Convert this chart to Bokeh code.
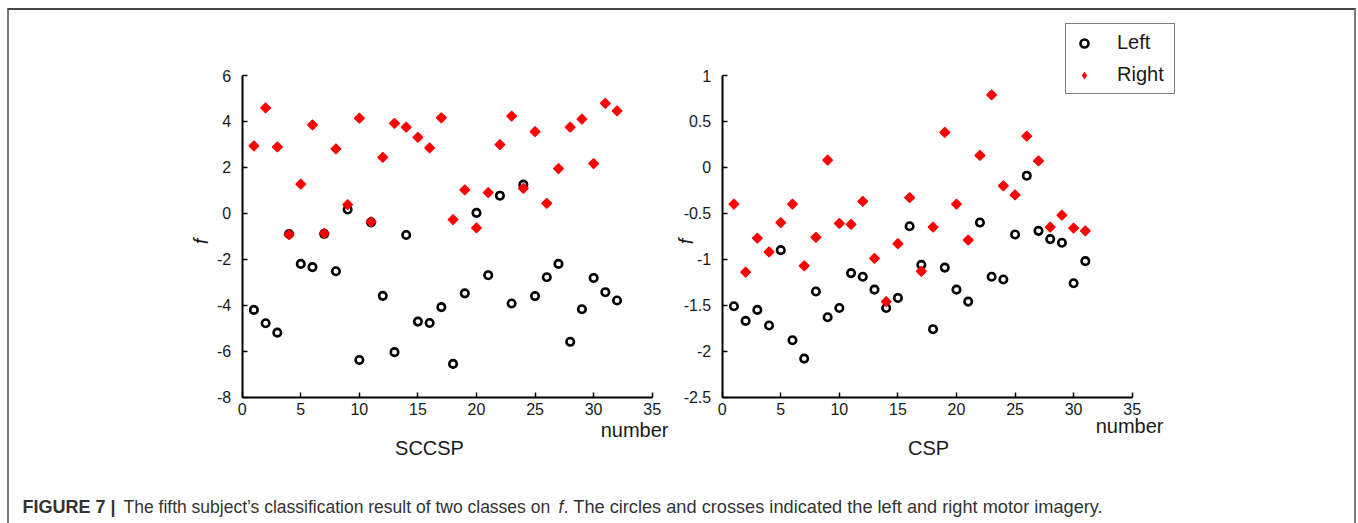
import numpy as np
from bokeh.plotting import figure
from bokeh.models import (Label, Legend, LegendItem, FixedTicker, Range1d,
                          ColumnDataSource, CDSView, IndexFilter)
from bokeh.layouts import row, column
from bokeh.embed import file_html
from bokeh.resources import INLINE
from bokeh.core.properties import value

# ---------------- data ----------------
number_sccsp = list(range(1, 33))
sccsp_left = [-4.20, -4.78, -5.19, -0.90, -2.20, -2.34, -0.89, -2.52, 0.17, -6.38,
              -0.39, -3.59, -6.04, -0.94, -4.71, -4.77, -4.08, -6.55, -3.48, 0.02,
              -2.69, 0.77, -3.92, 1.25, -3.60, -2.78, -2.20, -5.59, -4.17, -2.81,
              -3.43, -3.79]
sccsp_right = [2.94, 4.59, 2.89, -0.92, 1.27, 3.85, -0.87, 2.81, 0.38, 4.14,
               -0.37, 2.44, 3.92, 3.75, 3.31, 2.85, 4.16, -0.27, 1.02, -0.63,
               0.90, 2.99, 4.23, 1.09, 3.56, 0.44, 1.95, 3.75, 4.10, 2.17,
               4.79, 4.46]

number_csp = list(range(1, 32))
csp_left = [-1.51, -1.67, -1.55, -1.72, -0.90, -1.88, -2.08, -1.35, -1.63, -1.53,
            -1.15, -1.19, -1.33, -1.53, -1.42, -0.64, -1.06, -1.76, -1.09, -1.33,
            -1.46, -0.60, -1.19, -1.22, -0.73, -0.09, -0.69, -0.78, -0.82, -1.26,
            -1.02]
csp_right = [-0.40, -1.14, -0.77, -0.92, -0.60, -0.40, -1.07, -0.76, 0.08, -0.61,
             -0.62, -0.37, -0.99, -1.46, -0.83, -0.33, -1.13, -0.65, 0.38, -0.40,
             -0.79, 0.13, 0.79, -0.20, -0.30, 0.34, 0.07, -0.65, -0.52, -0.66,
             -0.69]

x_ticks = [0, 5, 10, 15, 20, 25, 30, 35]
sccsp_yticks = [-8, -6, -4, -2, 0, 2, 4, 6]
csp_yticks = [-2.5, -2, -1.5, -1, -0.5, 0, 0.5, 1]

series_labels = ["Left", "Right"]
caption_bold = "FIGURE 7 |"
caption_a = "The fifth subject\u2019s classification result of two classes on"
caption_f = "f"
caption_c = ". The circles and crosses indicated the left and right motor imagery."

# ---------------- layout constants (pixels) ----------------
FONT = "Liberation Sans"
TXT = "#1a1a1a"
PAGE_LEFT, PAGE_TOP = 9, 10          # inner corner of the framed area
PANEL_H = 450
Y_TOP_PX, Y_BOT_PX = 75, 396.7        # page y of top / bottom y tick
RED = "#ff0000"


def lin_range(v_a, pix_a, v_b, pix_b, size):
    k = (v_b - v_a) / (pix_b - pix_a)
    return Range1d(v_a - pix_a * k, v_a + (size - pix_a) * k)


def make_panel(left, width, x0_px, xs, left_vals, right_vals, yticks, title,
               title_x, num_x, num_y, f_x):
    xr = lin_range(x_ticks[0], x0_px - left, x_ticks[-1], x0_px + 410 - left, width)
    bottom = PAGE_TOP + PANEL_H
    yr = lin_range(yticks[0], bottom - Y_BOT_PX, yticks[-1], bottom - Y_TOP_PX, PANEL_H)
    p = figure(width=width, height=PANEL_H, x_range=xr, y_range=yr,
               output_backend="svg", toolbar_location=None, min_border=0)
    p.grid.visible = False
    p.outline_line_color = None
    p.background_fill_color = "white"
    p.border_fill_color = "white"

    for ax in (p.xaxis[0], p.yaxis[0]):
        ax.axis_line_width = 2
        ax.axis_line_color = "black"
        ax.major_tick_in = 5
        ax.major_tick_out = 0
        ax.major_tick_line_width = 1.5
        ax.major_tick_line_color = "black"
        ax.minor_tick_line_color = None
        ax.major_label_text_font = FONT
        ax.major_label_text_font_size = "16px"
        ax.major_label_text_color = TXT
    p.xaxis.ticker = FixedTicker(ticks=x_ticks)
    p.yaxis.ticker = FixedTicker(ticks=yticks)
    p.xaxis.major_label_overrides = {t: f"{t:g}" for t in x_ticks}
    p.yaxis.major_label_overrides = {t: f"{t:g}" for t in yticks}
    p.xaxis.fixed_location = yticks[0]
    p.yaxis.fixed_location = x_ticks[0]
    p.xaxis.bounds = (x_ticks[0], x_ticks[-1])
    p.yaxis.bounds = (yticks[0], yticks[-1])
    p.xaxis.major_label_standoff = 6
    p.yaxis.major_label_standoff = 11

    src = ColumnDataSource(data=dict(n=xs, left=left_vals, right=right_vals))
    r_left = p.scatter("n", "left", source=src, marker="circle", size=7.5, line_width=2.6,
                       line_color="black", fill_color=None)
    # legend swatch: a diamond for the first "Right" row, drawn beneath
    # (and hidden by) the rotated-square marker of that same row
    r_key = p.scatter("n", "right", source=src, marker="diamond", size=10.5, line_width=0,
                      line_color=RED, fill_color=RED, view=CDSView(filter=IndexFilter([0])))
    r_right = p.scatter("n", "right", source=src, marker="square", angle=np.pi / 4, size=7,
                        line_width=1.2, line_color=RED, fill_color=RED)

    p.add_layout(Label(x=num_x, y=num_y, x_units="screen", y_units="screen",
                       text="number", text_align="right", text_baseline="middle",
                       text_font=FONT, text_font_size="20px", text_color=TXT))
    p.add_layout(Label(x=title_x, y=13, x_units="screen", y_units="screen",
                       text=title, text_align="center", text_baseline="middle",
                       text_font=FONT, text_font_size="20px", text_color=TXT))
    p.add_layout(Label(x=f_x, y=219, x_units="screen", y_units="screen",
                       text="f", text_align="center", text_baseline="middle", angle=np.pi / 2,
                       text_font=FONT, text_font_style="italic",
                       text_font_size="20px", text_color=TXT))
    return p, r_left, r_key


P1_LEFT, P1_W = PAGE_LEFT, 663
P2_LEFT, P2_W = PAGE_LEFT + 663, 682

p1, _, _ = make_panel(P1_LEFT, P1_W, 241.7, number_sccsp, sccsp_left, sccsp_right,
                      sccsp_yticks, "SCCSP", 420, 659, 31, 191)
p2, rl, rk = make_panel(P2_LEFT, P2_W, 721.7, number_csp, csp_left, csp_right,
                        csp_yticks, "CSP", 256, 491, 35, 13)

legend = Legend(items=[LegendItem(label=series_labels[0], renderers=[rl]),
                       LegendItem(label=series_labels[1], renderers=[rk])],
                location=(1065 - P2_LEFT, PAGE_TOP + PANEL_H - 94), margin=0,
                padding=5, spacing=5, label_height=27, label_width=52,
                glyph_width=26, glyph_height=20,
                label_standoff=20, border_line_color="black", border_line_width=1.5,
                background_fill_color="white", background_fill_alpha=1,
                label_text_font=FONT, label_text_font_size="20px",
                label_text_color=TXT)
p2.add_layout(legend)

CAP_H = 523 - PAGE_TOP - PANEL_H
cap = figure(width=P1_W + P2_W, height=CAP_H, x_range=Range1d(0, P1_W + P2_W),
             y_range=Range1d(CAP_H, 0), output_backend="svg", toolbar_location=None,
             x_axis_type=None, y_axis_type=None, min_border=0)
cap.grid.visible = False
cap.outline_line_color = None
base = 506 - PAGE_TOP - PANEL_H
common = dict(text_font=value(FONT), text_baseline="alphabetic", text_color="#333333")
cap.text(x=[22 - PAGE_LEFT], y=[base], text=[caption_bold], text_font_style="bold",
         text_font_size="18px", **common)
cap.text(x=[123 - PAGE_LEFT], y=[base], text=[caption_a], text_font_size="17.5px", **common)
cap.text(x=[558 - PAGE_LEFT], y=[base], text=[caption_f], text_font_style="italic",
         text_font_size="17.5px", **common)
cap.text(x=[563 - PAGE_LEFT], y=[base], text=[caption_c], text_font_size="18.2px", **common)

layout = column(row(p1, p2), cap, margin=(8, 0, 0, 7),
                styles={"border-top": "2px solid #454545",
                        "border-left": "2px solid #7a7a7a",
                        "border-right": "2px solid #7a7a7a"})

with open("out.html", "w") as f:
    f.write(file_html(layout, INLINE))
